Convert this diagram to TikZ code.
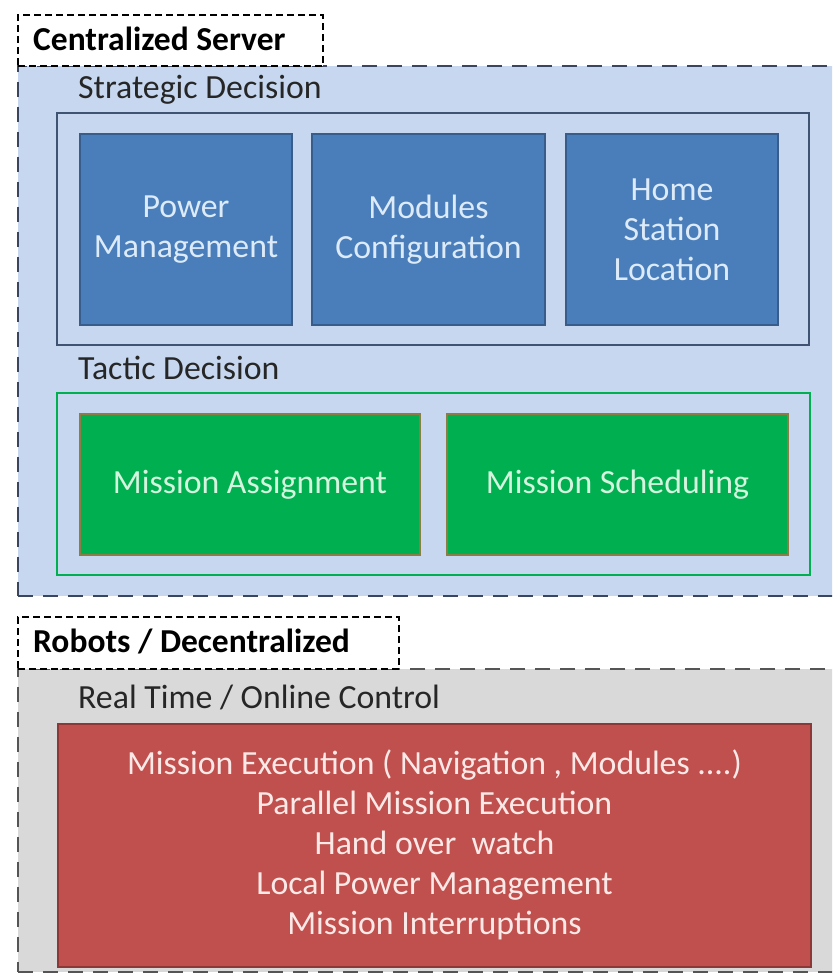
\documentclass[tikz,border=0pt]{standalone}
\usepackage{fontspec}
\setmainfont{Carlito}
\definecolor{regionblue}{HTML}{C6D7EF}
\definecolor{boxblue}{HTML}{4A7EBB}
\definecolor{boxblueline}{HTML}{385D8A}
\definecolor{stratline}{HTML}{3F5473}
\definecolor{navydash}{HTML}{3A4560}
\definecolor{greenfill}{HTML}{00B050}
\definecolor{greenline}{HTML}{8A7D45}
\definecolor{regiongray}{HTML}{D9D9D9}
\definecolor{graydash}{HTML}{555555}
\definecolor{redfill}{HTML}{C0504D}
\definecolor{redline}{HTML}{8C3836}
\definecolor{textdark}{HTML}{262626}
\definecolor{bluetext}{HTML}{DDEBF8}
\definecolor{greentext}{HTML}{D4F4DE}
\definecolor{redtext}{HTML}{FBE9E8}
\tikzset{
  boxfont/.style={font=\fontsize{33.8}{40}\selectfont},
  region/.style={rectangle, inner sep=0pt, line width=2.5pt, dash pattern=on 15pt off 10pt},
  tagbox/.style={rectangle, inner sep=0pt, draw=black, fill=white, line width=1.4pt, dash pattern=on 7pt off 4pt},
  heading/.style={anchor=base west, inner sep=0pt, text=textdark, boxfont},
  tagtext/.style={anchor=base west, inner sep=0pt, text=black, font=\fontsize{33.5}{38}\selectfont\bfseries},
  group/.style={rectangle, inner sep=0pt, line width=2.5pt},
  bluebox/.style={rectangle, inner sep=0pt, fill=boxblue, draw=boxblueline, line width=2pt, text=bluetext, align=center, boxfont},
  greenbox/.style={rectangle, inner sep=0pt, fill=greenfill, draw=greenline, line width=1.5pt, text=greentext, align=center, boxfont},
  redbox/.style={rectangle, inner sep=0pt, fill=redfill, draw=redline, line width=2pt, text=redtext, align=center, boxfont}
}
\begin{document}
\begin{tikzpicture}[x=1pt,y=-1pt]
\useasboundingbox (0,0) rectangle (832,976);
\clip (0,0) rectangle (832,976);
\fill[white] (0,0) rectangle (832,976);
% Centralized server region
\node[region, fill=regionblue, draw=navydash, minimum width=827pt, minimum height=530pt] (server) at (431.5,331) {};
\node[tagbox, minimum width=305pt, minimum height=51pt] (servertag) at (170.5,40.5) {};
\node[tagtext] (servertext) at (33,51) {Centralized Server};
% Strategic
\node[heading] (stratlabel) at (78,99) {Strategic Decision};
\node[group, draw=stratline, minimum width=752pt, minimum height=232pt] (strategic) at (433,229) {};
\node[bluebox, minimum width=212pt, minimum height=191pt] (power) at (186,229.5) {Power\\Management};
\node[bluebox, minimum width=233pt, minimum height=191pt] (modules) at (428.5,229.5) {Modules\\Configuration};
\node[bluebox, minimum width=212pt, minimum height=191pt] (home) at (672,229.5) {Home\\Station\\Location};
% Tactic
\node[heading] (tacticlabel) at (78,379) {Tactic Decision};
\node[group, draw=greenfill, minimum width=753pt, minimum height=182pt] (tactic) at (433.5,484) {};
\node[greenbox, minimum width=340pt, minimum height=141pt] (assign) at (250,484.5) {Mission Assignment};
\node[greenbox, minimum width=341pt, minimum height=141pt] (sched) at (617.5,484.5) {Mission Scheduling};
% Robots region
\node[region, fill=regiongray, draw=graydash, minimum width=827pt, minimum height=303pt] (robots) at (431.5,820.5) {};
\node[tagbox, minimum width=381pt, minimum height=52pt] (robotstag) at (208.5,643) {};
\node[tagtext] (robotstext) at (33,652) {Robots / Decentralized};
\node[heading] (rtlabel) at (78,708) {Real Time / Online Control};
\node[redbox, minimum width=753pt, minimum height=243pt] (exec) at (434.5,845) {Mission Execution ( Navigation , Modules ....)\\Parallel Mission Execution\\Hand over\ \ watch\\Local Power Management\\Mission Interruptions};
\end{tikzpicture}
\end{document}
